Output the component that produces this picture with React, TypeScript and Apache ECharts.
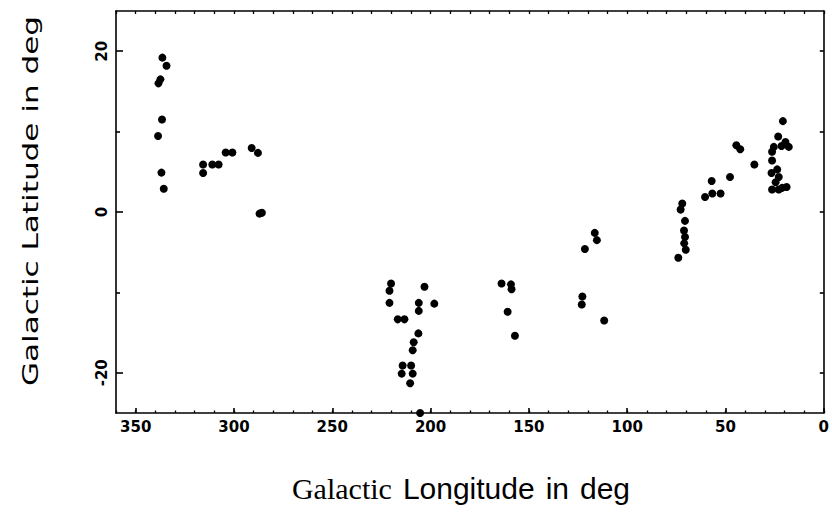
import React, { useEffect, useRef } from "react";
import * as echarts from "echarts";

// Galactic longitude (deg) of each source
const longitude = [
  336.4, 334.3, 337.4, 338.4, 336.6, 338.6, 336.9, 335.7,
  315.7, 315.7, 311.0, 307.8, 304.2, 300.8, 291.0, 287.8, 287.0, 285.8,
  220.1, 220.9, 220.9, 203.1, 206.0, 206.0, 198.1, 216.7, 213.3, 206.2, 208.6, 209.1,
  214.2, 209.9, 214.7, 209.1, 210.4, 205.3,
  163.9, 159.1, 158.8, 160.8, 157.1,
  116.5, 115.4, 121.5, 122.8, 123.1, 111.7,
  47.7, 57.0, 60.4, 56.7, 52.5, 72.0, 72.8, 70.6, 71.1, 70.6, 71.0, 70.2, 74.0,
  44.5, 42.5, 35.3, 20.8, 23.2, 19.5, 17.8, 21.5, 25.4, 26.3, 26.3, 23.7, 26.6,
  22.9, 24.5, 26.3, 22.9, 18.9, 21.2,
];

// Galactic latitude (deg) of each source
const latitude = [
  19.2, 18.2, 16.5, 16.0, 11.5, 9.45, 4.9, 2.9,
  5.9, 4.85, 5.9, 5.9, 7.4, 7.4, 7.95, 7.35, -0.2, -0.1,
  -8.9, -9.8, -11.3, -9.3, -11.3, -12.3, -11.4, -13.35, -13.35, -15.1, -16.2, -17.2,
  -19.1, -19.1, -20.1, -20.1, -21.3, -25.0,
  -8.9, -9.0, -9.6, -12.4, -15.4,
  -2.6, -3.5, -4.6, -10.5, -11.5, -13.5,
  4.35, 3.85, 1.87, 2.3, 2.3, 1.05, 0.3, -1.1, -2.3, -3.1, -3.9, -4.7, -5.7,
  8.3, 7.8, 5.9, 11.3, 9.4, 8.7, 8.1, 8.2, 8.1, 7.5, 6.4, 5.3, 4.85,
  4.35, 3.7, 2.8, 2.8, 3.1, 3.0,
];

const xMajorTicks = [0, 50, 100, 150, 200, 250, 300, 350];
const xMinorTicks = [
  0, 10, 20, 30, 40, 50, 60, 70, 80, 90, 100, 110, 120, 130, 140, 150, 160, 170, 180,
  190, 200, 210, 220, 230, 240, 250, 260, 270, 280, 290, 300, 310, 320, 330, 340, 350, 360,
];
const yLabelTicks = [-20, 0, 20];
const yMinorTicks = [-10, 10];
const yAllTicks = [-20, -10, 0, 10, 20];

const xTitleParts = ["Galactic", "Longitude", "in", "deg"];
const yTitle = "Galactic Latitude in deg";

export default function App() {
  const ref = useRef<HTMLDivElement>(null);

  useEffect(() => {
    if (!ref.current) return;
    const chart = echarts.init(ref.current, null, { renderer: "svg" });
    const lineStyle = { color: "#000", width: 1.6 };
    const labelFont = {
      color: "#000",
      fontFamily: "DejaVu Sans",
      fontWeight: "bold" as const,
      fontSize: 15,
    };
    const data = longitude.map((lon, i) => [lon, latitude[i]]);

    chart.setOption({
      animation: false,
      backgroundColor: "#fff",
      grid: { left: 116, right: 7, top: 11, bottom: 101 },
      xAxis: [
        {
          type: "value",
          position: "bottom",
          min: 0,
          max: 360,
          inverse: true,
          axisLine: { show: true, onZero: false, lineStyle },
          axisTick: {
            show: true,
            inside: true,
            length: 5,
            customValues: xMajorTicks,
            lineStyle,
          },
          axisLabel: { ...labelFont, margin: 6, customValues: xMajorTicks },
          splitLine: { show: false },
        },
        {
          type: "value",
          position: "bottom",
          min: 0,
          max: 360,
          inverse: true,
          axisLine: { show: false, onZero: false },
          axisTick: {
            show: true,
            inside: true,
            length: 2.5,
            customValues: xMinorTicks,
            lineStyle: { color: "#000", width: 1.3 },
          },
          axisLabel: { show: false },
          splitLine: { show: false },
        },
        {
          type: "value",
          position: "top",
          min: 0,
          max: 360,
          inverse: true,
          axisLine: { show: true, onZero: false, lineStyle },
          axisTick: {
            show: true,
            inside: true,
            length: 3,
            customValues: xMinorTicks,
            lineStyle: { color: "#000", width: 1.3 },
          },
          axisLabel: { show: false },
          splitLine: { show: false },
        },
      ],
      yAxis: [
        {
          type: "value",
          position: "left",
          min: -25,
          max: 25,
          axisLine: { show: true, onZero: false, lineStyle },
          axisTick: {
            show: true,
            inside: true,
            length: 7,
            customValues: yLabelTicks,
            lineStyle,
          },
          axisLabel: { ...labelFont, rotate: 90, margin: 7, customValues: yLabelTicks },
          splitLine: { show: false },
        },
        {
          type: "value",
          position: "left",
          min: -25,
          max: 25,
          axisLine: { show: false, onZero: false },
          axisTick: {
            show: true,
            inside: true,
            length: 4,
            customValues: yMinorTicks,
            lineStyle,
          },
          axisLabel: { show: false },
          splitLine: { show: false },
        },
        {
          type: "value",
          position: "right",
          min: -25,
          max: 25,
          axisLine: { show: true, onZero: false, lineStyle },
          axisTick: {
            show: true,
            inside: true,
            length: 4,
            customValues: yAllTicks,
            lineStyle,
          },
          axisLabel: { show: false },
          splitLine: { show: false },
        },
      ],
      series: [
        {
          type: "scatter",
          xAxisIndex: 0,
          yAxisIndex: 0,
          data,
          symbol: "circle",
          symbolSize: 8,
          clip: false,
          itemStyle: { color: "#000", opacity: 1 },
          z: 5,
        },
      ],
      graphic: [
        {
          type: "text",
          x: 30,
          y: 201,
          rotation: Math.PI / 2,
          scaleX: 1.48,
          style: {
            text: yTitle,
            font: "21px 'DejaVu Sans'",
            fill: "#000",
            align: "center",
            verticalAlign: "middle",
          },
        },
        {
          type: "text",
          x: 461,
          y: 488,
          style: {
            text: `{a|${xTitleParts[0]}}{s| }{b|${xTitleParts[1]}}{s| }{b|${xTitleParts[2]}}{s| }{b|${xTitleParts[3]}}`,
            fill: "#000",
            align: "center",
            verticalAlign: "middle",
            rich: {
              a: { fontFamily: "Liberation Serif", fontSize: 30, fill: "#000" },
              b: { fontFamily: "Liberation Sans", fontSize: 30, fill: "#000" },
              s: { width: 11, fontSize: 30 },
            },
          },
        },
      ],
    });
    return () => chart.dispose();
  }, []);

  return (
    <div
      ref={ref}
      style={{ position: "absolute", left: 0, top: 0, width: 832, height: 514, background: "#fff" }}
    />
  );
}
